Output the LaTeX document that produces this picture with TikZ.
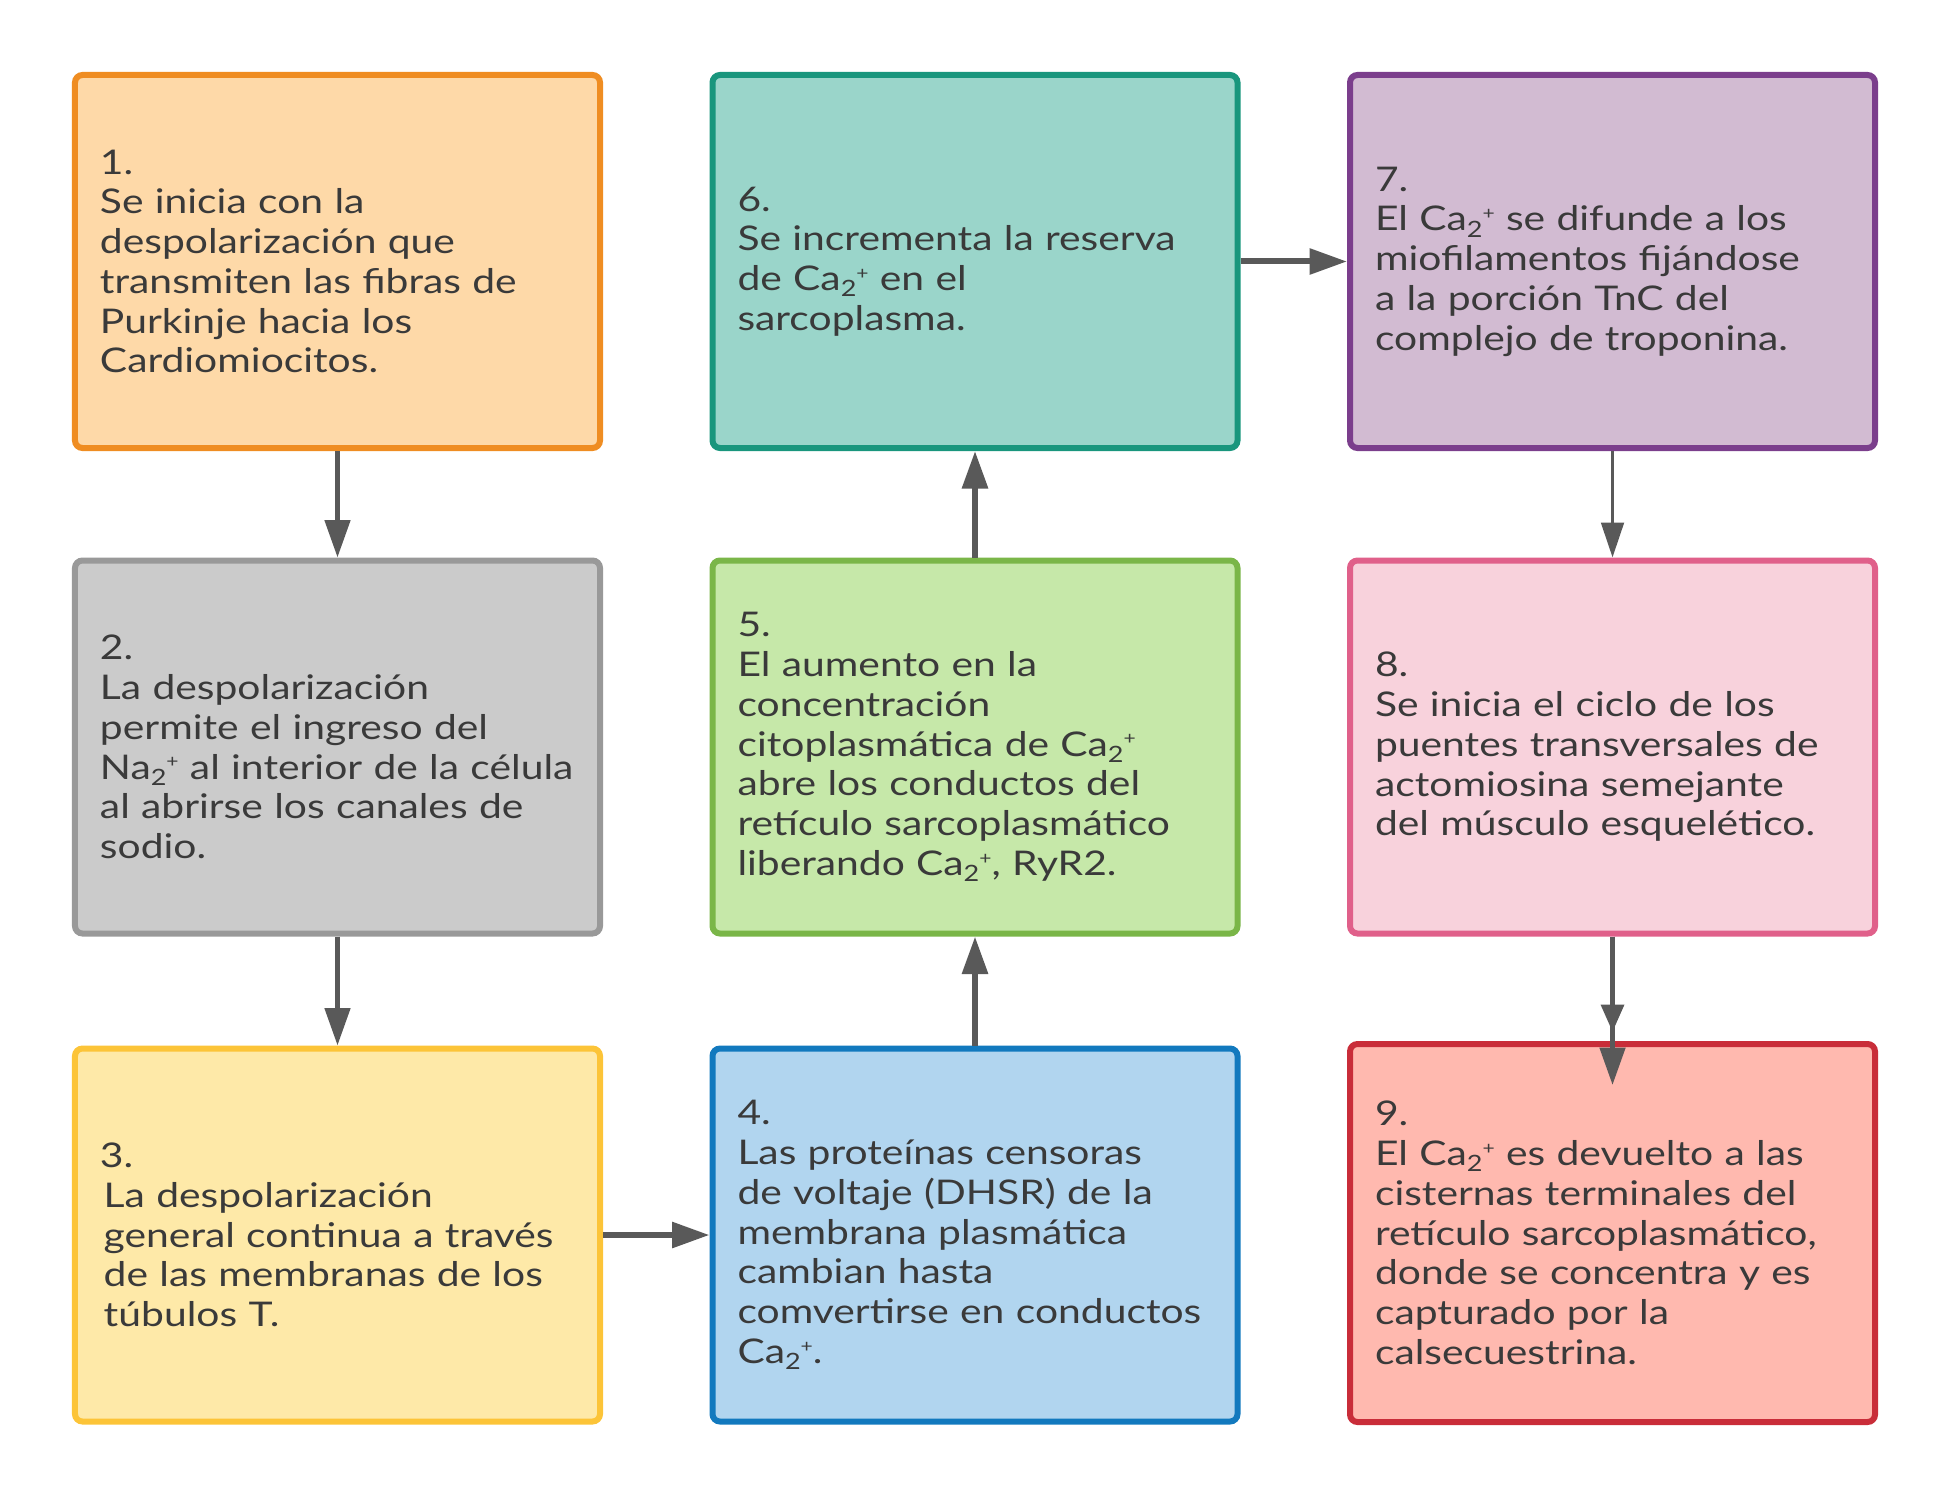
\documentclass[tikz,border=0pt]{standalone}
\usepackage{fontspec}
\setmainfont{Lato}[FakeStretch=1.2]
\usetikzlibrary{arrows.meta}

\definecolor{ink}{HTML}{3A3A3A}
\definecolor{arrowgray}{HTML}{595959}
\definecolor{fillA}{HTML}{FED9A8}\definecolor{lineA}{HTML}{EF8D22}
\definecolor{fillB}{HTML}{CBCBCB}\definecolor{lineB}{HTML}{999999}
\definecolor{fillC}{HTML}{FEE9A8}\definecolor{lineC}{HTML}{FCC438}
\definecolor{fillD}{HTML}{B1D5EF}\definecolor{lineD}{HTML}{1279BE}
\definecolor{fillE}{HTML}{C6E8A9}\definecolor{lineE}{HTML}{7AB648}
\definecolor{fillF}{HTML}{9AD5CA}\definecolor{lineF}{HTML}{19967D}
\definecolor{fillG}{HTML}{D2BBD2}\definecolor{lineG}{HTML}{7B3E8C}
\definecolor{fillH}{HTML}{F8D2DC}\definecolor{lineH}{HTML}{E0608A}
\definecolor{fillI}{HTML}{FFB9AF}\definecolor{lineI}{HTML}{C92D39}

\newcommand{\ionsub}[1]{#1{\fontsize{9}{9}\selectfont\raisebox{-2.5pt}{2}\raisebox{4.5pt}{\fontsize{7}{7}\selectfont+}}}

\begin{document}
\begin{tikzpicture}[x=0.4pt, y=-0.4pt]
    \tikzstyle{box}=[rectangle, draw, line width=2.4pt, rounded corners=3pt, minimum width=210pt, minimum height=149.2pt, text width=200pt, inner xsep=5pt, align=left, text=ink, font=\fontsize{13.6}{15.9}\selectfont, execute at begin node={\leftskip=5pt\relax}]
    \tikzstyle{flow}=[draw=arrowgray, line width=2.4pt, -{Triangle[length=15pt, width=10pt]}]
    \useasboundingbox (0, 0) rectangle (1950, 1498);
    \draw (337.5, 261.5) node[box, fill=fillA, draw=lineA] (b1) {1.\\Se inicia con la\\despolarización que\\transmiten las fibras de\\Purkinje hacia los\\Cardiomiocitos.};
    \draw (337.5, 747) node[box, fill=fillB, draw=lineB] (b2) {2.\\La despolarización\\permite el ingreso del\\\ionsub{Na} al interior de la célula\\al abrirse los canales de\\sodio.};
    \draw (337.5, 1235) node[box, fill=fillC, draw=lineC] (b3) {3.\\\hspace{1.5pt}La despolarización\\\hspace{1.5pt}general continua a través\\\hspace{1.5pt}de las membranas de los\\\hspace{1.5pt}túbulos T.};
    \draw (975, 1235) node[box, fill=fillD, draw=lineD] (b4) {4.\\Las proteínas censoras\\de voltaje (DHSR) de la\\membrana plasmática\\cambian hasta\\comvertirse en conductos\\\ionsub{Ca}.};
    \draw (975, 747) node[box, fill=fillE, draw=lineE] (b5) {5.\\El aumento en la\\concentración\\citoplasmática de \ionsub{Ca}\\abre los conductos del\\retículo sarcoplasmático\\liberando \ionsub{Ca}, RyR2.};
    \draw (975, 261.5) node[box, fill=fillF, draw=lineF] (b6) {6.\\Se incrementa la reserva\\de \ionsub{Ca} en el\\sarcoplasma.};
    \draw (1612.5, 261.5) node[box, fill=fillG, draw=lineG] (b7) {7.\\El \ionsub{Ca} se difunde a los\\miofilamentos fijándose\\a la porción TnC del\\complejo de troponina.};
    \draw (1612.5, 747) node[box, fill=fillH, draw=lineH] (b8) {8.\\Se inicia el ciclo de los\\puentes transversales de\\actomiosina semejante\\del músculo esquelético.};
    \draw (1612.5, 1233) node[box, fill=fillI, draw=lineI, minimum height=151.2pt] (b9) {9.\\El \ionsub{Ca} es devuelto a las\\cisternas terminales del\\retículo sarcoplasmático,\\donde se concentra y es\\capturado por la\\calsecuestrina.};
    \coordinate (c9a) at (1612.5, 1032);
    \coordinate (c9b) at (1612.5, 1085);
    \draw[flow, line width=2pt] (b1) -- (b2);
    \draw[flow, line width=2pt] (b2) -- (b3);
    \draw[flow] (b3) -- (b4);
    \draw[flow] (b4) -- (b5);
    \draw[flow] (b5) -- (b6);
    \draw[flow] (b6) -- (b7);
    \draw[flow, line width=1.4pt, -{Triangle[length=14pt, width=9pt]}] (b7) -- (b8);
    \draw[flow, line width=2pt, -{Triangle[length=11pt, width=9pt]}] (b8) -- (c9a);
    \draw[flow, line width=2pt] (b8) -- (c9b);
\end{tikzpicture}
\end{document}
